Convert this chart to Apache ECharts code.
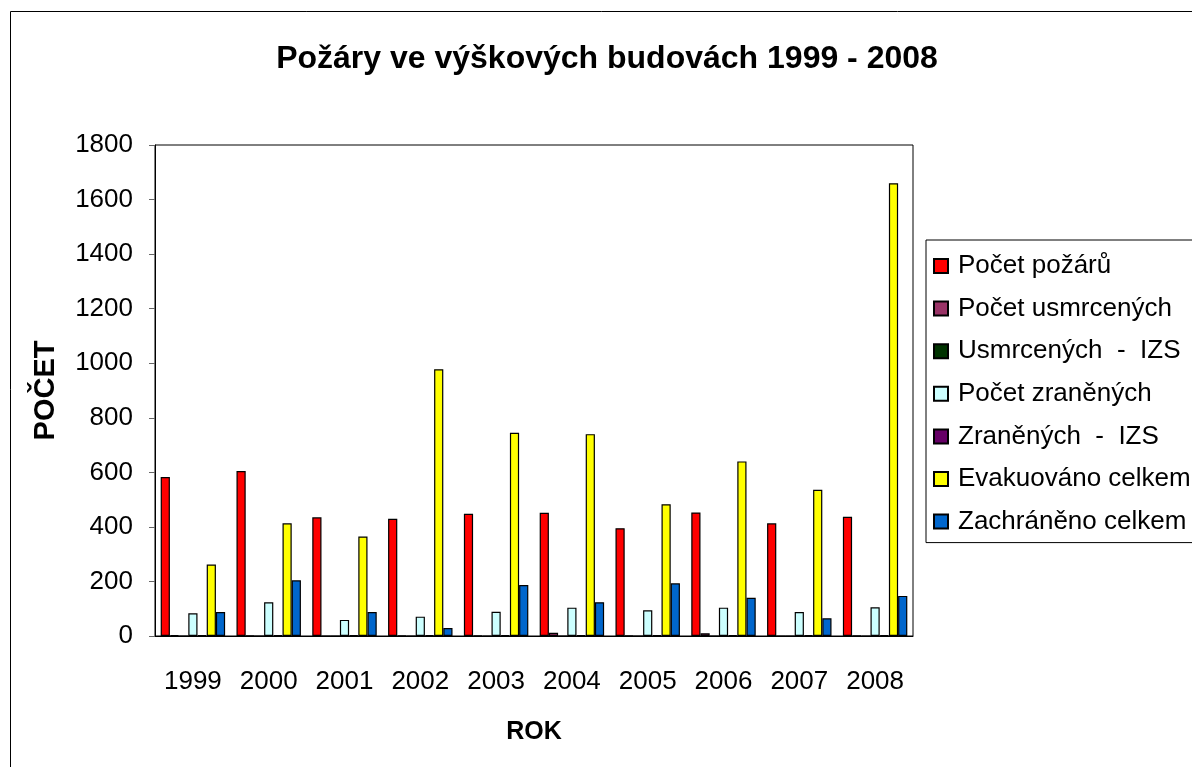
<!DOCTYPE html>
<html lang="cs">
<head>
    <meta charset="UTF-8">
    <script src="https://cdn.jsdelivr.net/npm/echarts@6/dist/echarts.min.js"></script>
    <title>Požáry ve výškových budovách</title>
    <style>
        html, body { margin: 0; padding: 0; background: #fff; }
    </style>
</head>
<body>
<div id="main" style="width: 1192px;height:767px;"></div>

<script type="text/javascript">
    // data
    var roky = ['1999', '2000', '2001', '2002', '2003', '2004', '2005', '2006', '2007', '2008'];
    var pocetPozaru = [583, 605, 435, 430, 448, 452, 395, 453, 413, 437];
    var pocetUsmrcenych = [3, 2, 0, 2, 2, 12, 2, 10, 0, 2];
    var usmrcenychIZS = [0, 0, 0, 0, 0, 0, 0, 0, 0, 0];
    var pocetZranenych = [83, 124, 59, 71, 89, 104, 94, 104, 88, 105];
    var zranenychIZS = [3, 3, 3, 3, 3, 3, 3, 3, 3, 3];
    var evakuovano = [262, 413, 365, 978, 745, 740, 483, 640, 536, 1660];
    var zachraneno = [88, 204, 88, 29, 187, 124, 193, 140, 65, 147];
    var yTicks = [0, 200, 400, 600, 800, 1000, 1200, 1400, 1600, 1800];

    var font = '"Liberation Sans", Arial, sans-serif';

    function serie(name, data, color) {
        return {
            name: name,
            type: 'bar',
            data: data,
            barGap: '0%',
            barCategoryGap: '15%',
            itemStyle: {
                color: color,
                borderColor: '#000',
                borderWidth: 1.2
            }
        };
    }

    var myChart = echarts.init(document.getElementById('main'));

    var option = {
        animation: false,
        backgroundColor: '#fff',
        graphic: [{
            type: 'rect',
            shape: { x: 10.5, y: 11.5, width: 1300, height: 900 },
            style: { fill: 'none', stroke: '#000', lineWidth: 1 },
            silent: true
        }],
        title: {
            text: 'Požáry ve výškových budovách 1999 - 2008',
            left: 602,
            textAlign: 'center',
            top: 38,
            textStyle: {
                fontFamily: font,
                fontSize: 32,
                fontWeight: 'bold',
                color: '#000'
            }
        },
        legend: {
            orient: 'vertical',
            left: 926,
            top: 240,
            padding: [13, 40, 8, 7],
            borderColor: '#000',
            borderWidth: 1,
            itemWidth: 14,
            itemHeight: 14,
            itemGap: 16.6,
            icon: 'rect',
            textStyle: {
                fontFamily: font,
                fontSize: 26,
                color: '#000',
                padding: [0, 0, 0, 5]
            },
            data: ['Počet požárů', 'Počet usmrcených', 'Usmrcených  -  IZS', 'Počet zraněných',
                'Zraněných  -  IZS', 'Evakuováno celkem', 'Zachráněno celkem']
        },
        grid: {
            left: 155,
            top: 145,
            right: 279,
            bottom: 131,
            show: true,
            borderColor: '#000',
            borderWidth: 1
        },
        xAxis: {
            type: 'category',
            data: roky,
            name: 'ROK',
            nameLocation: 'middle',
            nameGap: 84,
            nameTextStyle: {
                fontFamily: font,
                fontSize: 25,
                fontWeight: 'bold',
                color: '#000'
            },
            axisLine: { lineStyle: { color: '#000', width: 1 } },
            axisTick: { length: 8, lineStyle: { color: '#666' } },
            axisLabel: {
                fontFamily: font,
                fontSize: 26,
                color: '#000',
                margin: 33
            }
        },
        yAxis: {
            type: 'value',
            min: yTicks[0],
            max: yTicks[yTicks.length - 1],
            interval: 200,
            name: 'POČET',
            nameLocation: 'middle',
            nameGap: 95,
            nameTextStyle: {
                fontFamily: font,
                fontSize: 29,
                fontWeight: 'bold',
                color: '#000'
            },
            splitLine: { show: false },
            axisLine: { show: true, lineStyle: { color: '#000', width: 1 } },
            axisTick: { show: true, length: 6, lineStyle: { color: '#666' } },
            axisLabel: {
                fontFamily: font,
                fontSize: 26,
                color: '#000',
                margin: 22,
                formatter: function (v) { return String(v); }
            }
        },
        series: [
            serie('Počet požárů', pocetPozaru, '#FF0000'),
            serie('Počet usmrcených', pocetUsmrcenych, '#993366'),
            serie('Usmrcených  -  IZS', usmrcenychIZS, '#003300'),
            serie('Počet zraněných', pocetZranenych, '#CCFFFF'),
            serie('Zraněných  -  IZS', zranenychIZS, '#660066'),
            serie('Evakuováno celkem', evakuovano, '#FFFF00'),
            serie('Zachráněno celkem', zachraneno, '#0066CC')
        ]
    };

    myChart.setOption(option);
</script>
</body>
</html>
